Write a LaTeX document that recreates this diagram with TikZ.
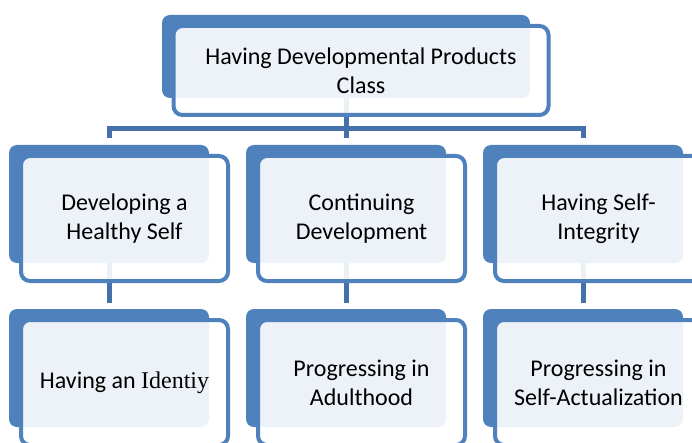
\documentclass[tikz,border=0pt]{standalone}
\usepackage{fontspec}
\setmainfont{Carlito}
\newfontfamily\serifword{Liberation Serif}
\usetikzlibrary{calc}
\definecolor{boxblue}{HTML}{4F81BD}
\definecolor{linkblue}{HTML}{4471A9}
\tikzset{
	backbox/.style={fill=boxblue, rounded corners=8pt, inner sep=0pt, minimum width=200pt, minimum height=118pt},
	frontbox/.style={draw=boxblue, line width=4pt, fill=white, fill opacity=0.9, text opacity=1, rounded corners=9pt,
		align=center, inner sep=0pt, minimum width=207pt, minimum height=125pt, font=\fontsize{24}{29}\selectfont},
	link/.style={draw=linkblue, line width=5pt},
}
\def\frontof(#1)#2{\node[frontbox] (#1) at ($(#1-bk.center)+(15.5,14.5)$) {#2};}

\begin{document}
\begin{tikzpicture}[x=1pt, y=-1pt]
		%%%%% START %%%%%
		\useasboundingbox[fill=white] (0, 0) rectangle (692, 443);
		
		% back plates
		\node[backbox, minimum width=368pt, minimum height=83pt] (top-bk) at (346, 56.5) {};
		\node[backbox] (healthy-bk) at (109, 204) {};
		\node[backbox] (continuing-bk) at (346, 204) {};
		\node[backbox] (integrity-bk) at (583, 204) {};
		\node[backbox] (identity-bk) at (109, 368) {};
		\node[backbox] (adulthood-bk) at (346, 368) {};
		\node[backbox] (actualization-bk) at (583, 368) {};
		
		% connectors
		\coordinate (bar) at (346, 128.5);
		\draw[link, shorten >=7pt] (bar) -| (healthy-bk.north);
		\draw[link, shorten >=7pt] (bar) -| (integrity-bk.north);
		\draw[link, shorten >=7pt] (top-bk.south) -- (continuing-bk.north);
		\draw[link, shorten >=6pt] (healthy-bk.south) -- (identity-bk.north);
		\draw[link, shorten >=6pt] (continuing-bk.south) -- (adulthood-bk.north);
		\draw[link, shorten >=6pt] (integrity-bk.south) -- (actualization-bk.north);
		
		% front boxes
		\node[frontbox, minimum width=375pt, minimum height=89pt] (top) at ($(top-bk.center)+(15,14)$) {Having Developmental Products\\Class};
		\frontof(healthy){Developing a\\Healthy Self}
		\frontof(continuing){Continuing\\Development}
		\frontof(integrity){Having Self-\\Integrity}
		\frontof(identity){Having an {\serifword Identiy}}
		\frontof(adulthood){Progressing in\\Adulthood}
		\frontof(actualization){Progressing in\\Self-Actualization}
		
		%%%%% END %%%%%
\end{tikzpicture}
\end{document}
